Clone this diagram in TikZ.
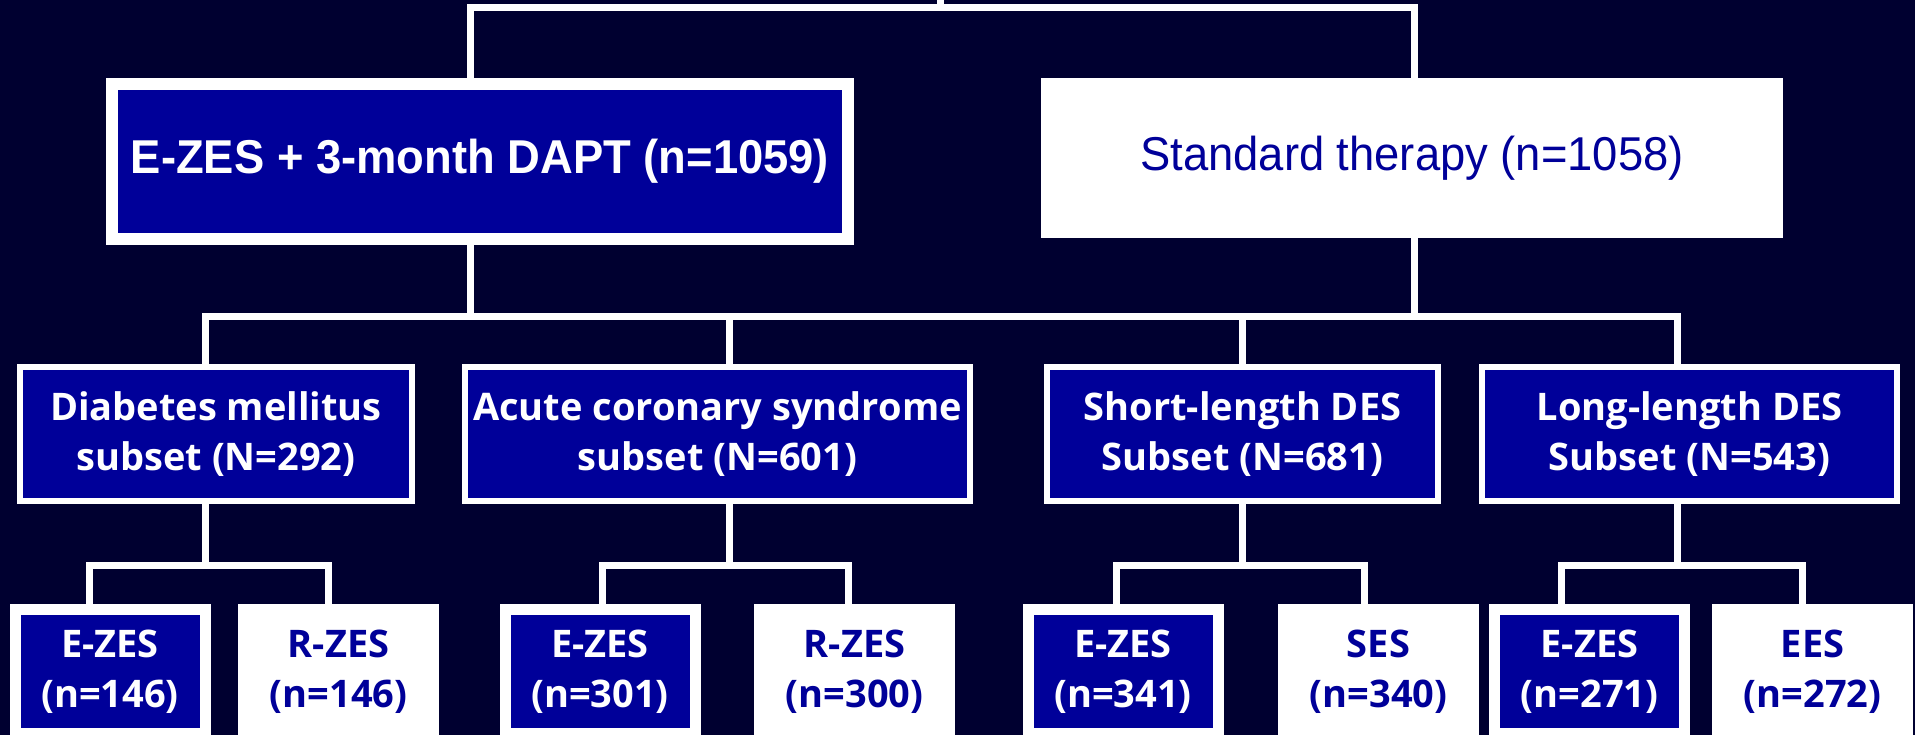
\documentclass[tikz,border=0pt]{standalone}
\usepackage{fontspec}
\setmainfont{Liberation Sans}
\newfontfamily\armfont[FakeStretch=0.955]{Liberation Sans}
\newfontfamily\subfont{Open Sans}
\usepackage{tikz}
\definecolor{navybg}{RGB}{0,0,48}
\definecolor{boxblue}{RGB}{0,0,153}
\tikzset{
  tree/.style     = {draw=white, line width=7pt},
  whitebox/.style = {fill=white, text=boxblue, inner sep=0pt, align=center},
  bluebox/.style  = {fill=white, text=white, inner sep=0pt, align=center,
                     path picture={\fill[boxblue]
                       ([shift={(#1pt,#1pt)}]path picture bounding box.south west) rectangle
                       ([shift={(-#1pt,-#1pt)}]path picture bounding box.north east);}},
  armtext/.style  = {font=\armfont\fontsize{47.5}{57}\selectfont},
  subtext/.style  = {font=\subfont\bfseries\fontsize{38}{50}\selectfont},
  arm/.style      = {armtext, minimum height=167pt},
  subset/.style   = {subtext, minimum height=140pt},
  leaf/.style     = {subtext, minimum width=201pt, minimum height=135pt},
}

\begin{document}
\begin{tikzpicture}[x=1pt, y=-1pt]
  \useasboundingbox (0,0) rectangle (1915,735);
  \fill[navybg] (0,0) rectangle (1915,735);
  \clip (0,0) rectangle (1915,735);

  % randomised arms
  \node[arm, bluebox=12, minimum width=748pt, font=\armfont\bfseries\fontsize{47.5}{57}\selectfont]
       (ezes) at (480,161.5) {E-ZES + 3-month DAPT (n=1059)};
  \node[arm, whitebox, minimum width=742pt, minimum height=160pt]
       (std) at (1412,158) {Standard therapy (n=1058)};

  % subsets
  \node[subset, bluebox=6, minimum width=398pt] (dm)  at (216,434)    {Diabetes mellitus\\subset (N=292)};
  \node[subset, bluebox=6, minimum width=511pt] (acs) at (717.5,434)  {Acute coronary syndrome\\subset (N=601)};
  \node[subset, bluebox=6, minimum width=397pt] (sl)  at (1242.5,434) {Short-length DES\\Subset (N=681)};
  \node[subset, bluebox=6, minimum width=421pt] (ll)  at (1689.5,434) {Long-length DES\\Subset (N=543)};

  % stents per subset
  \node[leaf, bluebox=11] (e1) at (110,671.5)    {E-ZES\\(n=146)};
  \node[leaf, whitebox]   (r1) at (338.5,671.5)  {R-ZES\\(n=146)};
  \node[leaf, bluebox=11] (e2) at (600,671.5)    {E-ZES\\(n=301)};
  \node[leaf, whitebox]   (r2) at (854.5,671.5)  {R-ZES\\(n=300)};
  \node[leaf, bluebox=11] (e3) at (1123,671.5)   {E-ZES\\(n=341)};
  \node[leaf, whitebox]   (s3) at (1378.5,671.5) {SES\\(n=340)};
  \node[leaf, bluebox=11] (e4) at (1589.5,671.5) {E-ZES\\(n=271)};
  \node[leaf, whitebox]   (s4) at (1812.5,671.5) {EES\\(n=272)};

  \coordinate (root) at (940,-10);
  \coordinate (j0) at (940,7.5);
  \coordinate (jm) at (940,316.5);
  \coordinate (j1) at (205.5,565.5);
  \coordinate (j2) at (729,565.5);
  \coordinate (j3) at (1242.5,565.5);
  \coordinate (j4) at (1677,565.5);

  \draw[tree] (root) -- (j0);
  \draw[tree] ([xshift=-10pt]ezes.north) |- (j0) -| ([xshift=2pt]std.north);

  \draw[tree] ([xshift=-10.5pt]dm.north) |- (jm) -| ([xshift=-12.5pt]ll.north);
  \draw[tree] ([xshift=-10pt]ezes.south) -- ([xshift=-10pt]ezes.south |- jm);
  \draw[tree] ([xshift=2pt]std.south) -- ([xshift=2pt]std.south |- jm);
  \draw[tree] ([xshift=11.5pt]acs.north) -- ([xshift=11.5pt]acs.north |- jm);
  \draw[tree] (sl.north) -- (sl.north |- jm);

  \draw[tree] ([xshift=-10.5pt]dm.south) -- (j1);
  \draw[tree] ([xshift=11.5pt]acs.south) -- (j2);
  \draw[tree] (sl.south) -- (j3);
  \draw[tree] ([xshift=-12.5pt]ll.south) -- (j4);
  \draw[tree] ([xshift=-21pt]e1.north) |- (j1) -| ([xshift=-10.5pt]r1.north);
  \draw[tree] ([xshift=2.5pt]e2.north) |- (j2) -| ([xshift=-6.5pt]r2.north);
  \draw[tree] ([xshift=-6.5pt]e3.north) |- (j3) -| ([xshift=-14pt]s3.north);
  \draw[tree] ([xshift=-28pt]e4.north) |- (j4) -| ([xshift=-10pt]s4.north);
\end{tikzpicture}
\end{document}
